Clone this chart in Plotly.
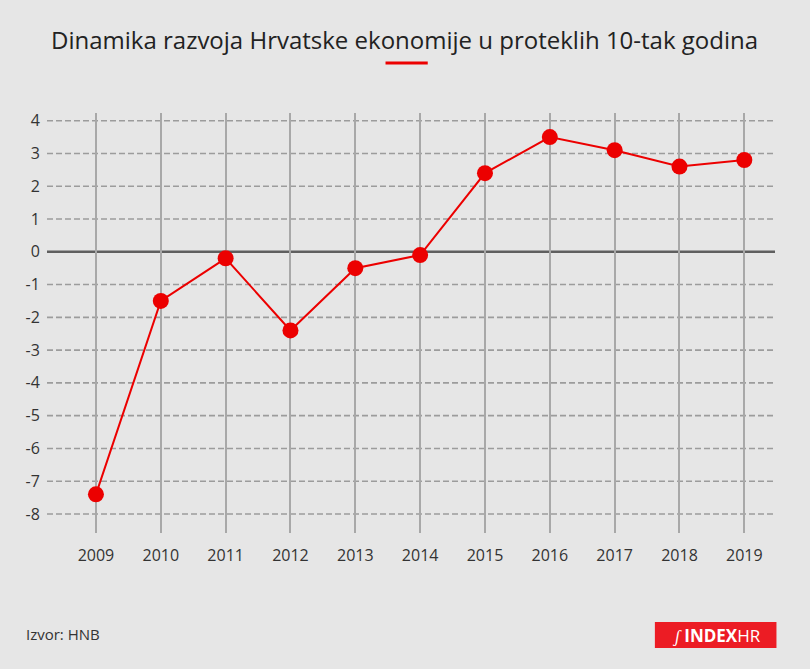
import plotly.graph_objects as go

# data
years = [2009, 2010, 2011, 2012, 2013, 2014, 2015, 2016, 2017, 2018, 2019]
growth = [-7.4, -1.5, -0.2, -2.4, -0.5, -0.1, 2.4, 3.5, 3.1, 2.6, 2.8]
y_ticks = [4, 3, 2, 1, 0, -1, -2, -3, -4, -5, -6, -7, -8]

title_text = "Dinamika razvoja Hrvatske ekonomije u proteklih 10-tak godina"
source_text = "Izvor: HNB"

RED = "#ec0000"
BG = "#e6e6e6"
FONT = "Open Sans"

fig = go.Figure()

fig.add_trace(go.Scatter(
    x=years, y=growth,
    mode="lines+markers",
    line=dict(color=RED, width=2),
    marker=dict(color=RED, size=16),
    hoverinfo="x+y",
    showlegend=False,
))

# horizontal dashed grid (zero line drawn separately)
for v in y_ticks:
    if v == 0:
        continue
    fig.add_shape(type="line", xref="paper", yref="y", x0=0, x1=1, y0=v, y1=v,
                  line=dict(color="#9c9c9c", width=1.6, dash="6px,3px"), layer="below")
fig.add_shape(type="line", xref="paper", yref="y", x0=0, x1=1, y0=0, y1=0,
              line=dict(color="#5f5f5f", width=2.6), layer="below")

# title underline
fig.add_shape(type="line", xref="paper", yref="paper", x0=0.465, x1=0.523, y0=1.119, y1=1.119,
              line=dict(color=RED, width=3))

# logo box
fig.add_shape(type="rect", xref="paper", yref="paper", x0=0.835, x1=1.002, y0=-0.274, y1=-0.212,
              fillcolor="#ec1c24", line_width=0)

fig.add_annotation(text=title_text, xref="paper", yref="paper", x=0.491, y=1.176,
                   xanchor="center", yanchor="middle", showarrow=False,
                   font=dict(family=FONT, size=24, color="#222222"))
fig.add_annotation(text=source_text, xref="paper", yref="paper", x=-0.032, y=-0.240,
                   xanchor="left", yanchor="middle", showarrow=False,
                   font=dict(family=FONT, size=15, color="#333333"))
fig.add_annotation(text="<i>ʃ</i> <b>INDEX</b>HR", xref="paper", yref="paper", x=0.92, y=-0.243,
                   xanchor="center", yanchor="middle", showarrow=False,
                   font=dict(family=FONT, size=17, color="#ffffff"))

fig.update_xaxes(
    range=[2008.245, 2019.473],
    tickvals=years, ticktext=[str(y) for y in years],
    showgrid=True, gridcolor="#a8a8a8", gridwidth=1.6,
    zeroline=False, showline=False,
    ticks="outside", ticklen=8, tickcolor="rgba(0,0,0,0)",
    tickfont=dict(family=FONT, size=16, color="#333333"),
)
fig.update_yaxes(
    range=[-8.58, 4.235],
    tickvals=y_ticks, ticktext=[str(v) for v in y_ticks],
    showgrid=False, zeroline=False, showline=False,
    ticks="outside", ticklen=3, tickcolor="rgba(0,0,0,0)",
    tickfont=dict(family=FONT, size=16, color="#333333"),
)

fig.update_layout(
    width=810, height=669,
    margin=dict(l=47, r=35, t=113, b=136),
    paper_bgcolor=BG,
    plot_bgcolor="rgba(0,0,0,0)",
)

fig.write_html(
    "out.html",
    config={"displayModeBar": False},
    post_script="document.body.style.margin='0';document.body.style.background='%s';" % BG,
)
